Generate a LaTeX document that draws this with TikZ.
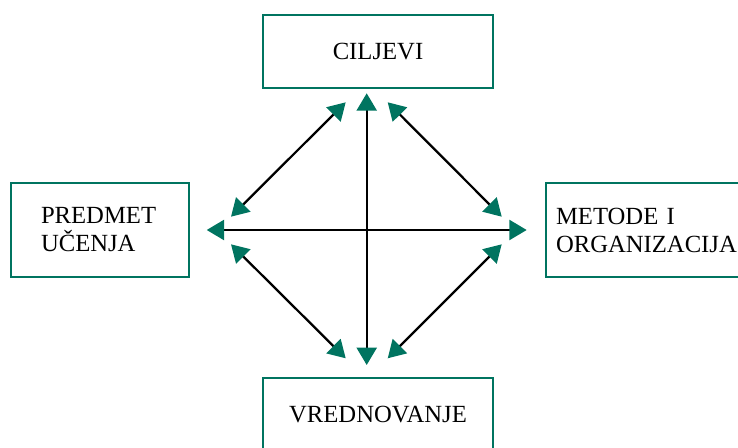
\documentclass[tikz,border=0pt]{standalone}
\usepackage{fontspec}
\setmainfont{Liberation Serif}
\usetikzlibrary{arrows.meta}
\definecolor{boxgreen}{RGB}{0,116,96}
\tikzset{
  okvir/.style={draw=boxgreen, line width=1.5pt, inner sep=0pt,
    font=\fontsize{18.5}{21}\selectfont},
  veza/.style={line width=1.7pt,
    arrows={Triangle[length=13pt,width=15pt,color=boxgreen]-Triangle[length=13pt,width=15pt,color=boxgreen]}}
}

\begin{document}
\begin{tikzpicture}[x=0.75pt,y=-0.75pt]
\useasboundingbox (0,0) rectangle (738,448);

% boxes
\node[okvir, minimum width=172.5pt, minimum height=54.75pt] (ciljevi) at (378,51.5) {CILJEVI};
\node[okvir, minimum width=172.5pt, minimum height=54.75pt] (vrednovanje) at (378,414.5) {VREDNOVANJE};
\node[okvir, minimum height=70.5pt, inner xsep=22.5pt, text width=88.5pt, align=left] (predmet) at (100,230) {PREDMET\\UČENJA};
\node[okvir, anchor=west, minimum height=70.5pt, inner xsep=7.5pt, text width=135pt, align=left] (metode) at (545,230) {METODE I\\ORGANIZACIJA};

% arrow ends
\coordinate (v1) at (366.7,93.3);
\coordinate (v2) at (366.7,365);
\coordinate (h1) at (206.7,230);
\coordinate (h2) at (526.7,230);
\coordinate (ul1) at (345.7,102.3);
\coordinate (ul2) at (231,216.7);
\coordinate (ur1) at (387.7,102.3);
\coordinate (ur2) at (501.7,216.7);
\coordinate (ll1) at (231,244.3);
\coordinate (ll2) at (345.7,358.3);
\coordinate (lr1) at (501.7,244.3);
\coordinate (lr2) at (387.7,358.3);

\draw[veza] (v1) -- (v2);
\draw[veza] (h1) -- (h2);
\draw[veza] (ul1) -- (ul2);
\draw[veza] (ur1) -- (ur2);
\draw[veza] (ll1) -- (ll2);
\draw[veza] (lr1) -- (lr2);
\end{tikzpicture}
\end{document}
